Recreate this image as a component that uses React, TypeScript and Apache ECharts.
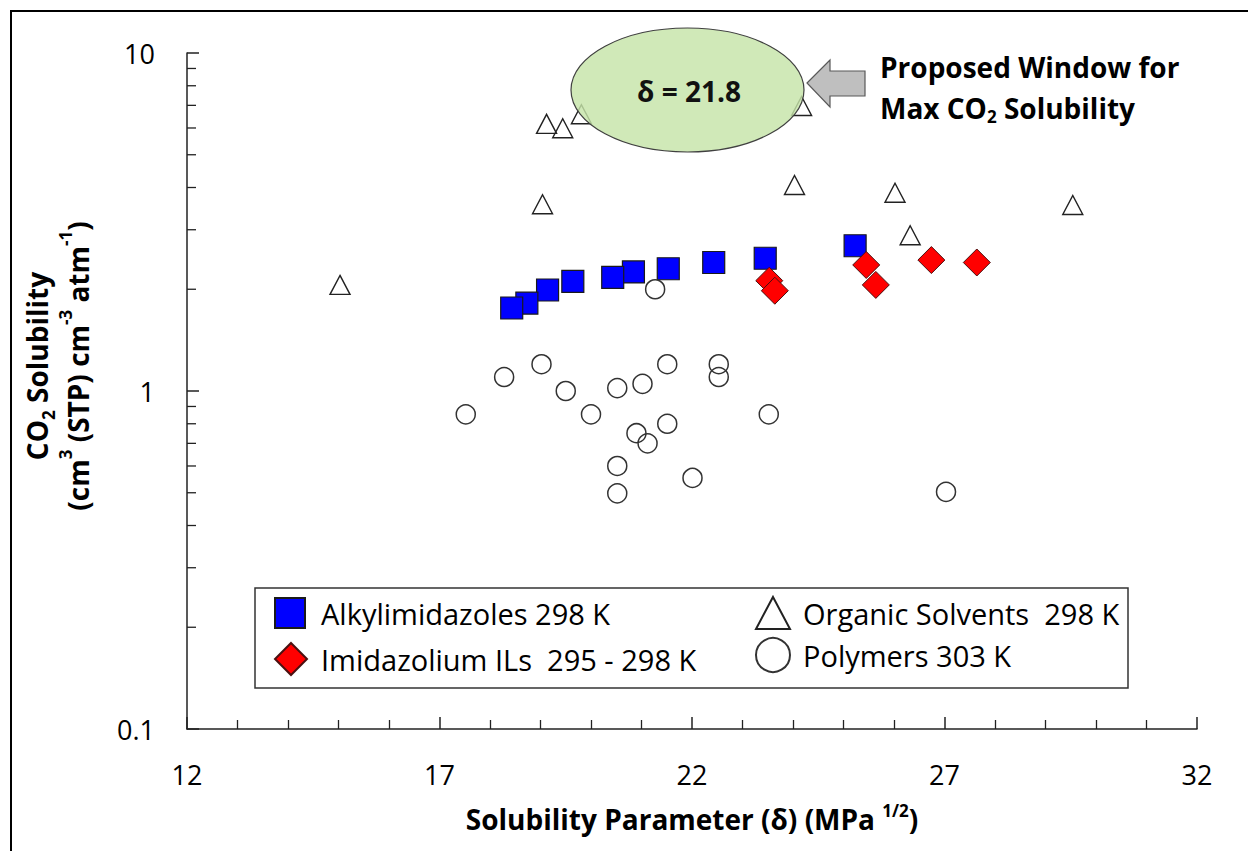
import React, { useEffect, useRef } from 'react';
import * as echarts from 'echarts';

const FONT = '"Open Sans", sans-serif';

// Series names (legend labels)
const NAME_ALKYL = 'Alkylimidazoles 298 K';
const NAME_ILS = 'Imidazolium ILs  295 - 298 K';
const NAME_SOLV = 'Organic Solvents  298 K';
const NAME_POLY = 'Polymers 303 K';

// Alkylimidazoles 298 K
const alkylX = [18.43, 18.73, 19.14, 19.64, 20.43, 20.84, 21.53, 22.43, 23.45, 25.23];
const alkylY = [1.76, 1.82, 1.99, 2.11, 2.17, 2.25, 2.3, 2.4, 2.47, 2.69];

// Imidazolium ILs 295 - 298 K
const ilsX = [23.53, 23.64, 25.45, 25.64, 26.74, 27.64];
const ilsY = [2.12, 1.98, 2.36, 2.06, 2.44, 2.4];

// Organic Solvents 298 K
const solvX = [15.03, 19.04, 19.12, 19.44, 19.81, 24.03, 24.17, 26.02, 26.32, 29.54];
const solvY = [2.06, 3.57, 6.17, 5.99, 6.59, 4.07, 6.97, 3.86, 2.89, 3.55];

// Polymers 303 K
const polyX = [17.52, 18.28, 19.02, 19.5, 20.0, 20.52, 21.02, 21.51, 22.53, 22.53, 23.52, 20.9, 21.12, 21.51, 20.52, 20.52, 22.01, 21.27, 27.03];
const polyY = [0.853, 1.1, 1.2, 1.0, 0.853, 1.02, 1.05, 1.2, 1.2, 1.1, 0.853, 0.75, 0.7, 0.8, 0.6, 0.498, 0.553, 2.0, 0.503];

// Axis settings
const xMin = 12;
const xMax = 32;
const xInterval = 5;
const yMin = 0.1;
const yMax = 10;
// log-axis minor tick values (2..9 per decade)
const yMinorTicks = [0.2, 0.3, 0.4, 0.5, 0.6, 0.7, 0.8, 0.9, 2, 3, 4, 5, 6, 7, 8, 9];

function pairs(xs: number[], ys: number[]) {
  return xs.map((x, i) => [x, ys[i]]);
}

export default function App() {
  const ref = useRef<HTMLDivElement>(null);

  useEffect(() => {
    const chart = echarts.init(ref.current as HTMLDivElement, null, { renderer: 'svg' });

    const legendCommon = {
      padding: 0,
      itemGap: 0,
      selectedMode: false,
      textStyle: { fontSize: 29, color: '#000', fontFamily: FONT, padding: [0, 0, 0, 11] },
    };

    const option: any = {
      animation: false,
      backgroundColor: '#ffffff',
      textStyle: { fontFamily: FONT },
      grid: { left: 187, top: 53, width: 1010, height: 676, containLabel: false, outerBoundsMode: 'none' },
      xAxis: {
        type: 'value',
        min: xMin,
        max: xMax,
        interval: xInterval,
        axisLine: { show: true, onZero: false, lineStyle: { color: '#222', width: 1.5 } },
        axisTick: { show: true, inside: true, length: 12, lineStyle: { color: '#222', width: 1.5 } },
        minorTick: { show: true, splitNumber: 5, length: 9, lineStyle: { color: '#222', width: 1.3 } },
        splitLine: { show: false },
        minorSplitLine: { show: false },
        axisLabel: { fontSize: 27, color: '#000', margin: 32, fontFamily: FONT },
        name: '{b|Solubility Parameter (δ) (MPa }{u|1/2}{b|)}',
        nameLocation: 'middle',
        nameGap: 73,
        nameTextStyle: {
          rich: {
            b: { fontSize: 28, fontWeight: 'bold', color: '#000', fontFamily: FONT, lineHeight: 34 },
            u: { fontSize: 17, fontWeight: 'bold', color: '#000', fontFamily: FONT, verticalAlign: 'top', lineHeight: 18 },
          },
        },
      },
      yAxis: {
        type: 'log',
        logBase: 10,
        min: yMin,
        max: yMax,
        axisLine: { show: true, lineStyle: { color: '#222', width: 1.5 } },
        axisTick: { show: true, inside: true, length: 12, lineStyle: { color: '#222', width: 1.5 } },
        minorTick: { show: false },
        splitLine: { show: false },
        axisLabel: {
          fontSize: 27,
          color: '#000',
          margin: 32,
          fontFamily: FONT,
          formatter: (v: number) => String(Number(v.toPrecision(3))),
        },
      },
      legend: [
        { ...legendCommon, data: [NAME_ALKYL], left: 274, top: 597, itemWidth: 30, itemHeight: 30 },
        { ...legendCommon, data: [NAME_ILS], left: 274, top: 642, itemWidth: 32, itemHeight: 32, textStyle: { ...legendCommon.textStyle, padding: [0, 0, 0, 9] } },
        { ...legendCommon, data: [NAME_SOLV], left: 755, top: 596, itemWidth: 34, itemHeight: 32, textStyle: { ...legendCommon.textStyle, padding: [0, 0, 0, 8] } },
        { ...legendCommon, data: [NAME_POLY], left: 755, top: 637, itemWidth: 34, itemHeight: 34, textStyle: { ...legendCommon.textStyle, padding: [0, 0, 0, 8] } },
      ],
      series: [
        {
          type: 'custom',
          silent: true,
          z: 3,
          clip: false,
          data: yMinorTicks.map((v) => [xMin, v]),
          renderItem: (params: any, api: any) => {
            const p = api.coord([api.value(0), api.value(1)]);
            return {
              type: 'line',
              shape: { x1: p[0], y1: p[1], x2: p[0] + 9, y2: p[1] },
              style: { stroke: '#222', lineWidth: 1.3 },
            };
          },
        },
        {
          type: 'scatter',
          name: NAME_ALKYL,
          data: pairs(alkylX, alkylY).reverse(),
          symbol: 'rect',
          symbolSize: 22,
          itemStyle: { color: '#0000ff', borderColor: '#1a1a1a', borderWidth: 1.2, opacity: 1 },
          z: 3,
        },
        {
          type: 'scatter',
          name: NAME_ILS,
          data: pairs(ilsX, ilsY),
          symbol: 'diamond',
          symbolSize: 27,
          itemStyle: { color: '#ff0000', borderColor: '#4a1010', borderWidth: 1, opacity: 1 },
          z: 4,
        },
        {
          type: 'scatter',
          name: NAME_SOLV,
          data: pairs(solvX, solvY),
          symbol: 'triangle',
          symbolSize: [20, 19],
          itemStyle: { color: 'rgba(255,255,255,0)', borderColor: '#222', borderWidth: 1.4, opacity: 1 },
          z: 4,
        },
        {
          type: 'scatter',
          name: NAME_POLY,
          data: pairs(polyX, polyY),
          symbol: 'circle',
          symbolSize: 19,
          itemStyle: { color: 'rgba(255,255,255,0)', borderColor: '#333', borderWidth: 1.5, opacity: 1 },
          z: 4,
        },
      ],
      graphic: [
        {
          type: 'polyline',
          shape: { points: [[11, 851], [11, 11], [1248, 11]] },
          style: { stroke: '#000', lineWidth: 2, fill: null },
          z: 1,
        },
        {
          type: 'rect',
          shape: { x: 255, y: 588, width: 873, height: 100 },
          style: { stroke: '#333', lineWidth: 1.5, fill: 'rgba(255,255,255,0)' },
          z: 1,
        },
        {
          type: 'text',
          x: 57,
          y: 366,
          rotation: Math.PI / 2,
          style: {
            text: '{b|CO}{s|2}{b| Solubility}\n{b|(cm}{u|3}{b| (STP) cm}{u|-3}{b| atm}{u|-1}{b|)}',
            align: 'center',
            verticalAlign: 'middle',
            rich: {
              b: { fontSize: 28, fontWeight: 'bold', fill: '#000', fontFamily: FONT, lineHeight: 41 },
              s: { fontSize: 17, fontWeight: 'bold', fill: '#000', fontFamily: FONT, verticalAlign: 'bottom', lineHeight: 30 },
              u: { fontSize: 17, fontWeight: 'bold', fill: '#000', fontFamily: FONT, verticalAlign: 'top', lineHeight: 30 },
            },
          },
          z: 10,
        },
        {
          type: 'ellipse',
          shape: { cx: 687.5, cy: 90, rx: 116.5, ry: 62 },
          style: { fill: 'rgba(198,228,168,0.82)', stroke: '#404040', lineWidth: 1.2 },
          z: 100,
        },
        {
          type: 'text',
          x: 689,
          y: 91,
          style: {
            text: 'δ = 21.8',
            fontSize: 28,
            fontWeight: 'bold',
            fontFamily: FONT,
            fill: '#111',
            align: 'center',
            verticalAlign: 'middle',
          },
          z: 101,
        },
        {
          type: 'polygon',
          shape: { points: [[807, 83], [830, 60], [830, 71], [865, 71], [865, 96], [830, 96], [830, 107]] },
          style: { fill: '#bfbfbf', stroke: '#595959', lineWidth: 1.2 },
          z: 100,
        },
        {
          type: 'text',
          x: 880,
          y: 67,
          style: {
            text: 'Proposed Window for',
            fontSize: 28,
            fontWeight: 'bold',
            fontFamily: FONT,
            fill: '#000',
            align: 'left',
            verticalAlign: 'middle',
          },
          z: 100,
        },
        {
          type: 'text',
          x: 880,
          y: 108,
          style: {
            text: '{b|Max CO}{s|2}{b| Solubility}',
            align: 'left',
            verticalAlign: 'middle',
            rich: {
              b: { fontSize: 28, fontWeight: 'bold', fill: '#000', fontFamily: FONT, lineHeight: 34 },
              s: { fontSize: 17, fontWeight: 'bold', fill: '#000', fontFamily: FONT, verticalAlign: 'bottom', lineHeight: 26 },
            },
          },
          z: 100,
        },
      ],
    };

    chart.setOption(option);
    return () => chart.dispose();
  }, []);

  return (
    <div
      ref={ref}
      style={{ position: 'fixed', left: 0, top: 0, width: 1248, height: 851, background: '#fff' }}
    />
  );
}
